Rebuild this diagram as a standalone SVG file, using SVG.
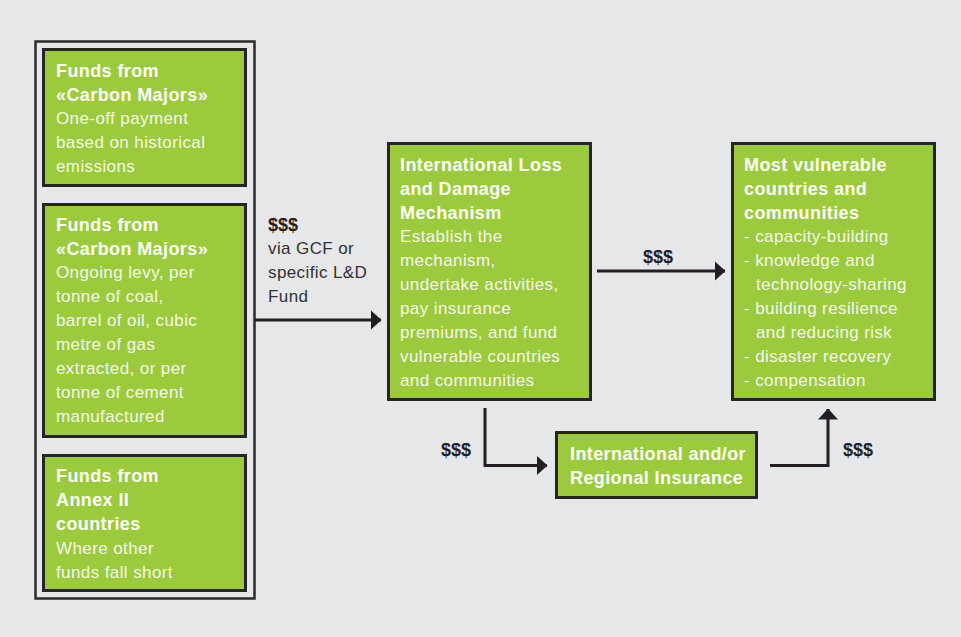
<svg xmlns="http://www.w3.org/2000/svg" width="961" height="637" viewBox="0 0 961 637">
  <defs>
    <style>
      .bg { fill: #e6e7e8; }
      .frame { fill: none; stroke: #2b2a2b; stroke-width: 2.5; }
      .box { fill: #9bca3c; stroke: #262425; stroke-width: 3; }
      .title { font-family: "Liberation Sans", Arial, sans-serif; font-weight: bold; font-size: 18px; letter-spacing: 0.4px; fill: #ffffff; }
      .body { font-family: "Liberation Sans", Arial, sans-serif; font-size: 17px; letter-spacing: 0.4px; fill: #f4f8ea; }
      .money { font-family: "Liberation Sans", Arial, sans-serif; font-weight: bold; font-size: 18px; fill: #231f20; }
      .note { font-family: "Liberation Sans", Arial, sans-serif; font-size: 17px; letter-spacing: 0.4px; fill: #333132; }
      .link { fill: none; stroke: #231f20; stroke-width: 3; }
    </style>
    <marker id="head" viewBox="0 0 11 20" refX="10.5" refY="10" markerWidth="11" markerHeight="20" markerUnits="userSpaceOnUse" orient="auto">
      <path d="M0,0 L11,10 L0,20 Z" fill="#231f20"/>
    </marker>
  </defs>

  <rect class="bg" x="0" y="0" width="961" height="637"/>

  <!-- sources of funding -->
  <g id="sources">
    <rect class="frame" x="35.5" y="41.5" width="219" height="557"/>
  </g>

  <g id="carbon-majors-oneoff">
    <rect class="box" x="43.5" y="49.5" width="202" height="136"/>
    <text class="title" x="56" y="77">Funds from</text>
    <text class="title" x="56" y="101">«Carbon Majors»</text>
    <text class="body" x="56" y="124">One-off payment</text>
    <text class="body" x="56" y="148">based on historical</text>
    <text class="body" x="56" y="172">emissions</text>
  </g>

  <g id="carbon-majors-levy">
    <rect class="box" x="43.5" y="204.5" width="202" height="232"/>
    <text class="title" x="56" y="231">Funds from</text>
    <text class="title" x="56" y="255">«Carbon Majors»</text>
    <text class="body" x="56" y="278">Ongoing levy, per</text>
    <text class="body" x="56" y="302">tonne of coal,</text>
    <text class="body" x="56" y="326">barrel of oil, cubic</text>
    <text class="body" x="56" y="350">metre of gas</text>
    <text class="body" x="56" y="374">extracted, or per</text>
    <text class="body" x="56" y="398">tonne of cement</text>
    <text class="body" x="56" y="422">manufactured</text>
  </g>

  <g id="annex-ii">
    <rect class="box" x="43.5" y="455.5" width="202" height="135"/>
    <text class="title" x="56" y="482">Funds from</text>
    <text class="title" x="56" y="506">Annex II</text>
    <text class="title" x="56" y="530">countries</text>
    <text class="body" x="56" y="554">Where other</text>
    <text class="body" x="56" y="578">funds fall short</text>
  </g>

  <g id="mechanism">
    <rect class="box" x="388.5" y="143.5" width="202" height="256"/>
    <text class="title" x="400" y="171">International Loss</text>
    <text class="title" x="400" y="195">and Damage</text>
    <text class="title" x="400" y="219">Mechanism</text>
    <text class="body" x="400" y="242">Establish the</text>
    <text class="body" x="400" y="266">mechanism,</text>
    <text class="body" x="400" y="290">undertake activities,</text>
    <text class="body" x="400" y="314">pay insurance</text>
    <text class="body" x="400" y="338">premiums, and fund</text>
    <text class="body" x="400" y="362">vulnerable countries</text>
    <text class="body" x="400" y="386">and communities</text>
  </g>

  <g id="vulnerable">
    <rect class="box" x="732.5" y="143.5" width="202" height="256"/>
    <text class="title" x="744" y="171">Most vulnerable</text>
    <text class="title" x="744" y="195">countries and</text>
    <text class="title" x="744" y="219">communities</text>
    <text class="body" x="744" y="242">- capacity-building</text>
    <text class="body" x="744" y="266">- knowledge and</text>
    <text class="body" x="756" y="290">technology-sharing</text>
    <text class="body" x="744" y="314">- building resilience</text>
    <text class="body" x="756" y="338">and reducing risk</text>
    <text class="body" x="744" y="362">- disaster recovery</text>
    <text class="body" x="744" y="386">- compensation</text>
  </g>

  <g id="insurance">
    <rect class="box" x="556.5" y="432.5" width="200" height="65"/>
    <text class="title" x="570" y="460">International and/or</text>
    <text class="title" x="570" y="484">Regional Insurance</text>
  </g>

  <!-- money flows -->
  <g id="connectors">
    <path class="link" d="M255,320 H381" marker-end="url(#head)"/>
    <path class="link" d="M597,271 H725" marker-end="url(#head)"/>
    <path class="link" d="M485,408 V465.5 H547" marker-end="url(#head)"/>
    <path class="link" d="M770,465.5 H828 V409" marker-end="url(#head)"/>

    <text class="money" x="268" y="231">$$$</text>
    <text class="note" x="268" y="254">via GCF or</text>
    <text class="note" x="268" y="278">specific L&amp;D</text>
    <text class="note" x="268" y="302">Fund</text>
    <text class="money" x="643" y="263">$$$</text>
    <text class="money" x="441" y="456">$$$</text>
    <text class="money" x="843" y="456">$$$</text>
  </g>
</svg>
